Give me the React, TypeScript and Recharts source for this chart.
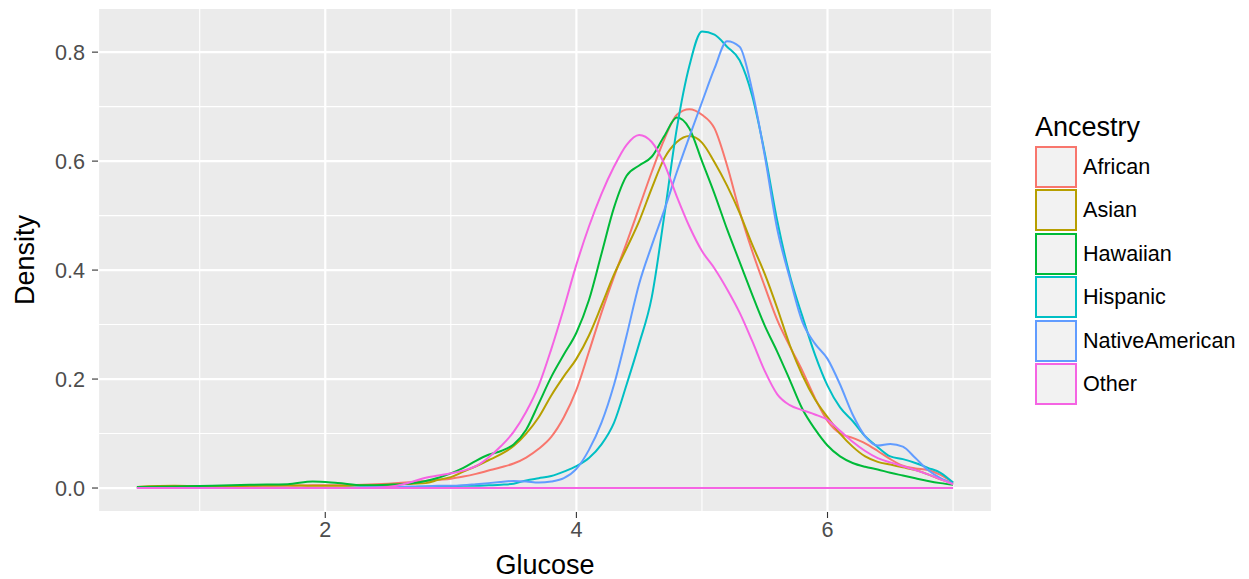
import { LineChart, Line, XAxis, YAxis, CartesianGrid, Legend, ReferenceLine } from 'recharts'

// Glucose grid the densities are read on (sparse in the flat left tail)
const glucose = [
  0.5, 0.8, 1.1, 1.4, 1.7, 1.9, 2.1, 2.3, 2.5, 2.7,
  2.8, 2.9, 3.0, 3.1, 3.2, 3.3, 3.4, 3.5, 3.6, 3.7, 3.8, 3.9,
  4.0, 4.1, 4.2, 4.3, 4.4, 4.5, 4.6, 4.7, 4.8, 4.9,
  5.0, 5.1, 5.2, 5.3, 5.4, 5.5, 5.6, 5.7, 5.8, 5.9,
  6.0, 6.1, 6.2, 6.3, 6.4, 6.5, 6.6, 6.7, 6.8, 6.9, 7.0,
]

const african = [
  0.002, 0.003, 0.003, 0.004, 0.004, 0.005, 0.005, 0.006, 0.008, 0.011,
  0.013, 0.015, 0.017, 0.021, 0.026, 0.032, 0.038, 0.045, 0.056, 0.072, 0.094, 0.13,
  0.18, 0.25, 0.322, 0.388, 0.45, 0.515, 0.58, 0.64, 0.685, 0.695,
  0.685, 0.66, 0.592, 0.508, 0.435, 0.37, 0.308, 0.26, 0.215, 0.165,
  0.123, 0.1, 0.092, 0.082, 0.068, 0.053, 0.041, 0.036, 0.033, 0.024, 0.01,
]

const asian = [
  0.002, 0.004, 0.003, 0.004, 0.005, 0.004, 0.004, 0.005, 0.006, 0.008,
  0.009, 0.015, 0.02, 0.03, 0.04, 0.051, 0.062, 0.077, 0.1, 0.13, 0.17, 0.205,
  0.237, 0.28, 0.335, 0.392, 0.44, 0.49, 0.55, 0.605, 0.635, 0.646,
  0.634, 0.598, 0.555, 0.505, 0.447, 0.393, 0.33, 0.262, 0.207, 0.163,
  0.13, 0.1, 0.076, 0.058, 0.048, 0.043, 0.038, 0.033, 0.025, 0.016, 0.008,
]

const hawaiian = [
  0.002, 0.003, 0.004, 0.006, 0.007, 0.012, 0.009, 0.005, 0.006, 0.009,
  0.013, 0.019, 0.027, 0.037, 0.05, 0.061, 0.068, 0.08, 0.107, 0.155, 0.204, 0.245,
  0.285, 0.345, 0.43, 0.515, 0.573, 0.592, 0.608, 0.646, 0.68, 0.66,
  0.6, 0.54, 0.475, 0.415, 0.355, 0.298, 0.25, 0.198, 0.145, 0.108,
  0.078, 0.058, 0.046, 0.039, 0.034, 0.028, 0.023, 0.018, 0.013, 0.009, 0.006,
]

const hispanic = [
  0, 0, 0, 0, 0, 0, 0, 0.001, 0.001, 0.002,
  0.003, 0.003, 0.003, 0.004, 0.004, 0.005, 0.006, 0.008, 0.014, 0.018, 0.022, 0.03,
  0.04, 0.055, 0.08, 0.12, 0.19, 0.265, 0.35, 0.5, 0.66, 0.775,
  0.838, 0.832, 0.81, 0.785, 0.72, 0.615, 0.49, 0.39, 0.315, 0.245,
  0.188, 0.148, 0.123, 0.095, 0.075, 0.058, 0.053, 0.046, 0.037, 0.028, 0.01,
]

const nativeAmerican = [
  0, 0, 0, 0, 0, 0, 0, 0.001, 0.002, 0.003,
  0.003, 0.004, 0.004, 0.005, 0.007, 0.009, 0.011, 0.013, 0.012, 0.01, 0.012, 0.018,
  0.035, 0.07, 0.12, 0.19, 0.28, 0.375, 0.445, 0.51, 0.58, 0.645,
  0.708, 0.77, 0.82, 0.81, 0.73, 0.61, 0.475, 0.385, 0.305, 0.265,
  0.237, 0.19, 0.135, 0.095, 0.078, 0.081, 0.076, 0.055, 0.033, 0.018, 0.008,
]

const other = [
  0, 0, 0, 0, 0, 0, 0, 0, 0.002, 0.012,
  0.019, 0.023, 0.027, 0.032, 0.04, 0.056, 0.077, 0.103, 0.14, 0.188, 0.255, 0.33,
  0.41, 0.48, 0.54, 0.59, 0.63, 0.648, 0.635, 0.595, 0.535, 0.48,
  0.435, 0.403, 0.365, 0.322, 0.27, 0.215, 0.172, 0.152, 0.143, 0.135,
  0.125, 0.105, 0.085, 0.068, 0.055, 0.047, 0.04, 0.033, 0.025, 0.016, 0.007,
]

const xTicks = [2, 4, 6]
const xMinor = [1, 3, 5, 7]
const yTicks = [0, 0.2, 0.4, 0.6, 0.8]
const yMinor = [0.1, 0.3, 0.5, 0.7]

const series = [
  { key: 'African', values: african, color: '#F8766D' },
  { key: 'Asian', values: asian, color: '#B79F00' },
  { key: 'Hawaiian', values: hawaiian, color: '#00BA38' },
  { key: 'Hispanic', values: hispanic, color: '#00BFC4' },
  { key: 'NativeAmerican', values: nativeAmerican, color: '#619CFF' },
  { key: 'Other', values: other, color: '#F564E3' },
]

const data = glucose.map((g, i) => {
  const row: Record<string, number> = { glucose: g }
  series.forEach((s) => {
    row[s.key] = s.values[i]
  })
  return row
})

const FONT = '"Liberation Sans", Arial, Helvetica, sans-serif'

// ggplot-style legend: title plus outlined grey keys
const AncestryLegend = ({ payload }: any) => (
  <div style={{ fontFamily: FONT, color: '#000' }}>
    <div style={{ fontSize: 27, lineHeight: '36px', height: 36 }}>Ancestry</div>
    {(payload || []).map((entry: any) => (
      <div
        key={entry.value}
        style={{ display: 'flex', alignItems: 'center', height: 43.5 }}
      >
        <div
          style={{
            width: 38,
            height: 38,
            border: `2px solid ${entry.color}`,
            background: '#F2F2F2',
          }}
        />
        <span style={{ marginLeft: 6, fontSize: 21.6 }}>{entry.value}</span>
      </div>
    ))}
  </div>
)

export default function App() {
  return (
    <div style={{ position: 'absolute', left: 0, top: 0, width: 1249, height: 579, background: '#fff' }}>
      <LineChart
        width={1249}
        height={579}
        data={data}
        margin={{ top: 8, right: 257, bottom: 0, left: 0 }}
        style={{ fontFamily: FONT }}
      >
        {/* panel background and minor grid */}
        <CartesianGrid
          fill="#EBEBEB"
          stroke="#FFFFFF"
          strokeWidth={1.1}
          verticalValues={xMinor}
          horizontalValues={yMinor}
        />
        {/* major grid */}
        <CartesianGrid stroke="#FFFFFF" strokeWidth={2.2} />

        <XAxis
          dataKey="glucose"
          type="number"
          domain={[0.19, 7.31]}
          ticks={xTicks}
          allowDataOverflow
          height={67}
          axisLine={false}
          tickSize={6}
          tickMargin={4}
          tick={{ fill: '#4D4D4D', fontSize: 21.6 }}
          tickLine={{ stroke: '#333333', strokeWidth: 1.1 }}
          label={{
            content: ({ viewBox }: any) => (
              <text
                x={viewBox.x + viewBox.width / 2}
                y={viewBox.y + 62}
                textAnchor="middle"
                fontSize={27}
                fill="#000"
              >
                Glucose
              </text>
            ),
          }}
        />
        <YAxis
          type="number"
          domain={[-0.044, 0.881]}
          ticks={yTicks}
          tickFormatter={(v) => v.toFixed(1)}
          allowDataOverflow
          width={98}
          axisLine={false}
          tickSize={6}
          tickMargin={7}
          tick={{ fill: '#4D4D4D', fontSize: 21.6 }}
          tickLine={{ stroke: '#333333', strokeWidth: 1.1 }}
          label={{
            content: ({ viewBox }: any) => {
              const cx = viewBox.x + 34
              const cy = viewBox.y + viewBox.height / 2
              return (
                <text
                  x={cx}
                  y={cy}
                  transform={`rotate(-90, ${cx}, ${cy})`}
                  textAnchor="middle"
                  fontSize={27}
                  fill="#000"
                >
                  Density
                </text>
              )
            },
          }}
        />

        {series.map((s) => (
          <Line
            key={s.key}
            dataKey={s.key}
            name={s.key}
            type="monotone"
            stroke={s.color}
            strokeWidth={2}
            dot={false}
            activeDot={false}
            isAnimationActive={false}
          />
        ))}

        {/* closing edge of the density outlines */}
        <ReferenceLine
          segment={[
            { x: glucose[0], y: 0 },
            { x: glucose[glucose.length - 1], y: 0 },
          ]}
          stroke="#F564E3"
          strokeWidth={2}
        />

        <Legend
          layout="vertical"
          align="center"
          verticalAlign="middle"
          content={<AncestryLegend />}
          wrapperStyle={{ left: 1035, top: 109, width: 214 }}
        />
      </LineChart>
    </div>
  )
}
